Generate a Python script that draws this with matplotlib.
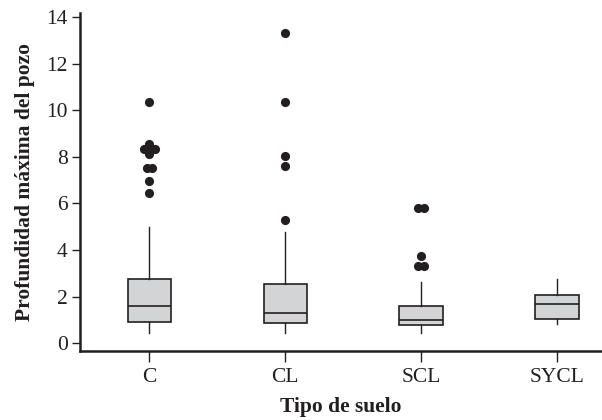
import matplotlib
matplotlib.use("Agg")
import matplotlib.pyplot as plt
import numpy as np
from collections import Counter

categories = ["C", "CL", "SCL", "SYCL"]
# box statistics: whislo, q1, median, q3, whishi
whislo = [0.43, 0.43, 0.42, 0.81]
q1 = [0.90, 0.86, 0.80, 1.04]
median = [1.59, 1.29, 0.99, 1.67]
q3 = [2.74, 2.53, 1.59, 2.06]
whishi = [5.00, 4.76, 2.63, 2.77]
outliers = [
    [10.37, 8.57, 8.33, 8.33, 8.33, 8.10, 7.52, 7.52, 6.95, 6.43],
    [13.32, 10.37, 8.05, 7.62, 5.30],
    [5.82, 5.82, 3.73, 3.30, 3.30],
    [],
]
yticks = [0, 2, 4, 6, 8, 10, 12, 14]

plt.rcParams['font.family'] = ['Liberation Serif', 'DejaVu Serif']

fig = plt.figure(figsize=(6.02, 4.2), dpi=100)
ax = fig.add_axes([0.133, 0.164, 0.867, 0.805])

stats = []
for i, c in enumerate(categories):
    stats.append(dict(label=c, whislo=whislo[i], q1=q1[i], med=median[i],
                      q3=q3[i], whishi=whishi[i], fliers=[]))
pos = np.arange(len(categories))
edge = "#231f20"
ax.bxp(stats, positions=pos, widths=0.32, showcaps=False, patch_artist=True,
       showfliers=False,
       boxprops=dict(facecolor="#d3d4d6", edgecolor=edge, linewidth=1.2),
       medianprops=dict(color=edge, linewidth=1.2),
       whiskerprops=dict(color=edge, linewidth=1.0))

# outliers, dodging identical values side by side
spacing = 0.042
for i, vals in enumerate(outliers):
    counts = Counter(vals)
    for v, n in counts.items():
        offs = (np.arange(n) - (n - 1) / 2) * spacing
        ax.plot(pos[i] + offs, [v] * n, 'o', color=edge, markersize=6.6,
                markeredgewidth=0, zorder=3)

ax.set_xlim(-0.51, 3.33)
ax.set_ylim(-0.34, 14.17)
ax.set_yticks(yticks)
ax.set_xticks(pos)
ax.set_xticklabels(categories)
ax.spines['top'].set_visible(False)
ax.spines['right'].set_visible(False)
for s in ['left', 'bottom']:
    ax.spines[s].set_linewidth(1.8)
    ax.spines[s].set_color(edge)
ax.tick_params(axis='y', length=6, width=1.0, labelsize=15.5, colors=edge, pad=3)
ax.tick_params(axis='x', length=8, width=1.0, labelsize=15.5, colors=edge, pad=4)
ax.set_xlabel("Tipo de suelo", fontsize=15.5, fontweight='bold', color=edge, labelpad=7)
ax.set_ylabel("Profundidad máxima del pozo", fontsize=15.5, fontweight='bold',
              color=edge, labelpad=8)

fig.savefig("out.png", dpi=100)
